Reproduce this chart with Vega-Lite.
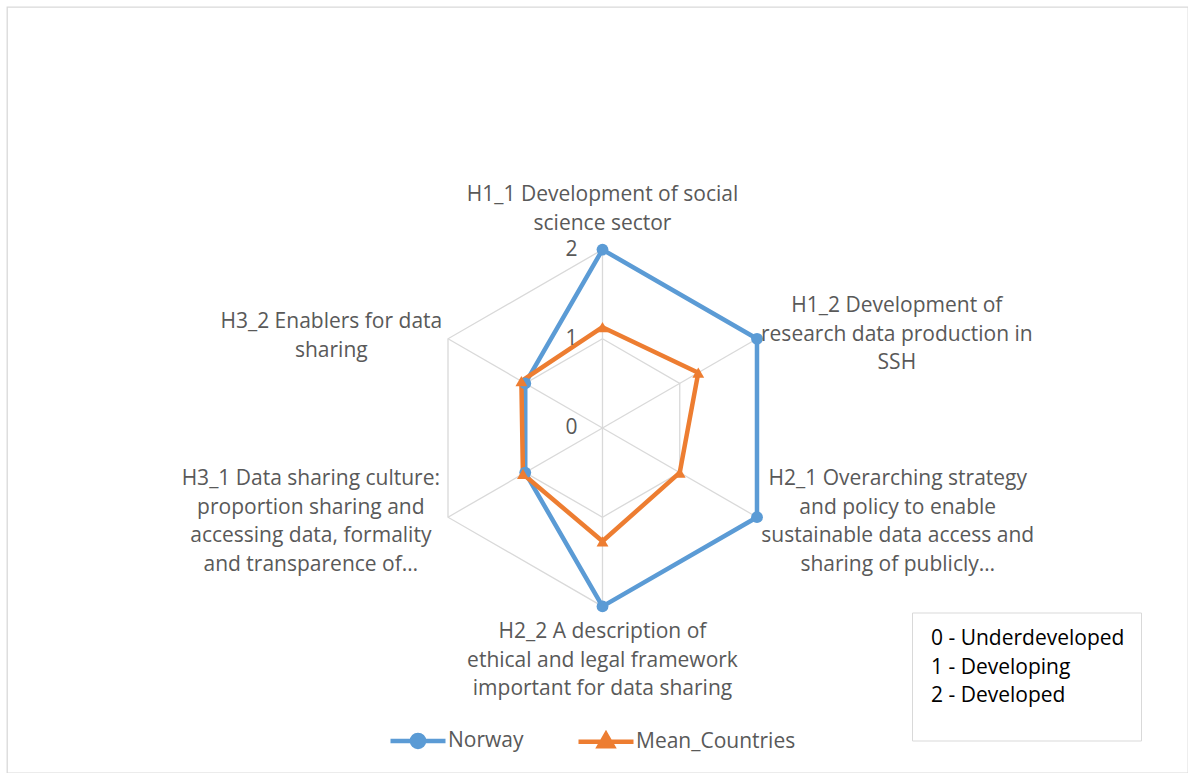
{
  "$schema": "https://vega.github.io/schema/vega-lite/v6.json",
  "width": 1181,
  "height": 766,
  "autosize": "none",
  "padding": {"left": 7, "top": 7, "right": 0, "bottom": 0},
  "background": "white",
  "config": {"view": {"stroke": "#D9D9D9", "strokeWidth": 1.3}},
  "datasets": {
    "scores": [
      {"axis": "H1_1", "idx": 0, "series": "Norway", "value": 2},
      {"axis": "H1_2", "idx": 1, "series": "Norway", "value": 2},
      {"axis": "H2_1", "idx": 2, "series": "Norway", "value": 2},
      {"axis": "H2_2", "idx": 3, "series": "Norway", "value": 2},
      {"axis": "H3_1", "idx": 4, "series": "Norway", "value": 1},
      {"axis": "H3_2", "idx": 5, "series": "Norway", "value": 1},
      {"axis": "H1_1", "idx": 0, "series": "Mean_Countries", "value": 1.13},
      {"axis": "H1_2", "idx": 1, "series": "Mean_Countries", "value": 1.24},
      {"axis": "H2_1", "idx": 2, "series": "Mean_Countries", "value": 1.0},
      {"axis": "H2_2", "idx": 3, "series": "Mean_Countries", "value": 1.27},
      {"axis": "H3_1", "idx": 4, "series": "Mean_Countries", "value": 1.03},
      {"axis": "H3_2", "idx": 5, "series": "Mean_Countries", "value": 1.05}
    ],
    "axes": [
      {"idx": 0, "label": "H1_1 Development of social\nscience sector"},
      {"idx": 1, "label": "H1_2 Development of\nresearch data production in\nSSH"},
      {"idx": 2, "label": "H2_1 Overarching strategy\nand policy to enable\nsustainable data access and\nsharing of publicly…"},
      {"idx": 3, "label": "H2_2 A description of\nethical and legal framework\nimportant for data sharing"},
      {"idx": 4, "label": "H3_1 Data sharing culture:\nproportion sharing and\naccessing data, formality\nand transparence of…"},
      {"idx": 5, "label": "H3_2 Enablers for data\nsharing"}
    ],
    "levels": [
      {"level": 0, "desc": "0 - Underdeveloped"},
      {"level": 1, "desc": "1 - Developing"},
      {"level": 2, "desc": "2 - Developed"}
    ]
  },
  "encoding": {
    "x": {"field": "cx", "type": "quantitative", "axis": null, "scale": {"domain": [-6.676, 6.564], "nice": false, "zero": false}},
    "y": {"field": "cy", "type": "quantitative", "axis": null, "scale": {"domain": [-3.868, 4.72], "nice": false, "zero": false}}
  },
  "resolve": {"scale": {"fill": "independent", "stroke": "independent", "shape": "independent", "color": "independent"}},
  "layer": [
    {
      "data": {"name": "axes"},
      "transform": [
        {"calculate": "[1, 2]", "as": "lv"},
        {"flatten": ["lv"]},
        {"calculate": "datum.idx == 0 ? [0, 6] : [datum.idx]", "as": "k"},
        {"flatten": ["k"]},
        {"calculate": "datum.lv * sin(datum.k * PI / 3)", "as": "cx"},
        {"calculate": "datum.lv * cos(datum.k * PI / 3)", "as": "cy"}
      ],
      "mark": {"type": "line", "color": "#D9D9D9", "strokeWidth": 1.3},
      "encoding": {
        "detail": {"field": "lv", "type": "nominal"},
        "order": {"field": "k", "type": "quantitative"}
      }
    },
    {
      "data": {"name": "axes"},
      "transform": [
        {"calculate": "2 * sin(datum.idx * PI / 3)", "as": "cx"},
        {"calculate": "2 * cos(datum.idx * PI / 3)", "as": "cy"}
      ],
      "mark": {"type": "rule", "color": "#D9D9D9", "strokeWidth": 1.3},
      "encoding": {
        "x2": {"datum": 0},
        "y2": {"datum": 0}
      }
    },
    {
      "data": {"name": "scores"},
      "transform": [
        {"calculate": "datum.idx == 0 ? [0, 6] : [datum.idx]", "as": "k"},
        {"flatten": ["k"]},
        {"calculate": "datum.value * sin(datum.k * PI / 3)", "as": "cx"},
        {"calculate": "datum.value * cos(datum.k * PI / 3)", "as": "cy"}
      ],
      "mark": {"type": "line", "strokeWidth": 4.5, "strokeJoin": "round", "strokeCap": "round"},
      "encoding": {
        "color": {"field": "series", "type": "nominal", "legend": null, "scale": {"domain": ["Norway", "Mean_Countries"], "range": ["#5B9BD5", "#ED7D31"]}},
        "order": {"field": "k", "type": "quantitative"}
      }
    },
    {
      "data": {"name": "scores"},
      "transform": [
        {"calculate": "datum.value * sin(datum.idx * PI / 3)", "as": "cx"},
        {"calculate": "datum.value * cos(datum.idx * PI / 3)", "as": "cy"}
      ],
      "mark": {"type": "point", "filled": true, "opacity": 1, "size": 140},
      "encoding": {
        "color": {"field": "series", "type": "nominal", "legend": null, "scale": {"domain": ["Norway", "Mean_Countries"], "range": ["#5B9BD5", "#ED7D31"]}},
        "shape": {"field": "series", "type": "nominal", "legend": null, "scale": {"domain": ["Norway", "Mean_Countries"], "range": ["circle", "triangle-up"]}}
      }
    },
    {
      "data": {"name": "scores"},
      "transform": [
        {"filter": "false"},
        {"calculate": "0", "as": "cx"},
        {"calculate": "0", "as": "cy"}
      ],
      "mark": {"type": "point", "filled": true, "opacity": 1, "strokeWidth": 4.5},
      "encoding": {
        "fill": {
          "field": "series", "type": "nominal",
          "scale": {"domain": ["Norway", "Mean_Countries"], "range": ["#5B9BD5", "#ED7D31"]},
          "legend": {
            "title": null, "orient": "none", "direction": "horizontal",
            "legendX": 381, "legendY": 703.5,
            "symbolSize": 3025, "symbolStrokeWidth": 4.5, "symbolOpacity": 1,
            "labelFont": "Open Sans", "labelFontSize": 21, "labelColor": "#595959", "labelOffset": 0,
            "columnPadding": 45, "padding": 0
          }
        },
        "stroke": {
          "field": "series", "type": "nominal",
          "scale": {"domain": ["Norway", "Mean_Countries"], "range": ["#5B9BD5", "#ED7D31"]},
          "legend": {
            "title": null, "orient": "none", "direction": "horizontal",
            "legendX": 381, "legendY": 703.5,
            "symbolSize": 3025, "symbolStrokeWidth": 4.5, "symbolOpacity": 1,
            "labelFont": "Open Sans", "labelFontSize": 21, "labelColor": "#595959", "labelOffset": 0,
            "columnPadding": 45, "padding": 0
          }
        },
        "shape": {
          "field": "series", "type": "nominal",
          "scale": {"domain": ["Norway", "Mean_Countries"], "range": ["M-1,0L1,0M-0.22,0A0.22,0.22,0,1,1,0.22,0A0.22,0.22,0,1,1,-0.22,0Z", "M-1,0L1,0M0,-0.27L0.25,0.17L-0.25,0.17Z"]},
          "legend": {
            "title": null, "orient": "none", "direction": "horizontal",
            "legendX": 381, "legendY": 703.5,
            "symbolSize": 3025, "symbolStrokeWidth": 4.5, "symbolOpacity": 1,
            "labelFont": "Open Sans", "labelFontSize": 21, "labelColor": "#595959", "labelOffset": 0,
            "columnPadding": 45, "padding": 0
          }
        }
      }
    },
    {
      "data": {"name": "levels"},
      "transform": [
        {"calculate": "0", "as": "cx"},
        {"calculate": "datum.level", "as": "cy"}
      ],
      "mark": {"type": "text", "font": "Open Sans", "fontSize": 21, "dx": -31, "align": "center", "baseline": "middle"},
      "encoding": {
        "text": {"field": "level", "type": "quantitative"},
        "fill": {
          "field": "desc", "type": "nominal",
          "scale": {"domain": ["0 - Underdeveloped", "1 - Developing", "2 - Developed"], "range": ["#595959", "#595959", "#595959"]},
          "legend": {
            "title": " ", "titleOrient": "bottom", "titleFontSize": 18, "titlePadding": 0,
            "orient": "none", "legendX": 905, "legendY": 605.5,
            "symbolSize": 0, "symbolOpacity": 0, "symbolStrokeWidth": 0, "labelOffset": -18,
            "labelFont": "Open Sans", "labelFontSize": 21, "labelColor": "#000000", "labelLimit": 400,
            "rowPadding": 6.5, "padding": 16,
            "strokeColor": "#D9D9D9", "fillColor": "white"
          }
        }
      }
    },
    {
      "data": {"name": "axes"},
      "transform": [
        {"calculate": "[0, 3.30, 3.31, 0, -3.27, -3.04][datum.idx]", "as": "cx"},
        {"calculate": "[2.61, 1.368, -0.572, -2.287, -0.572, 1.188][datum.idx]", "as": "cy"}
      ],
      "mark": {"type": "text", "font": "Open Sans", "fontSize": 21, "color": "#595959", "align": "center", "baseline": "middle", "lineBreak": "\n", "lineHeight": 28.7},
      "encoding": {
        "text": {"field": "label", "type": "nominal"}
      }
    }
  ]
}
